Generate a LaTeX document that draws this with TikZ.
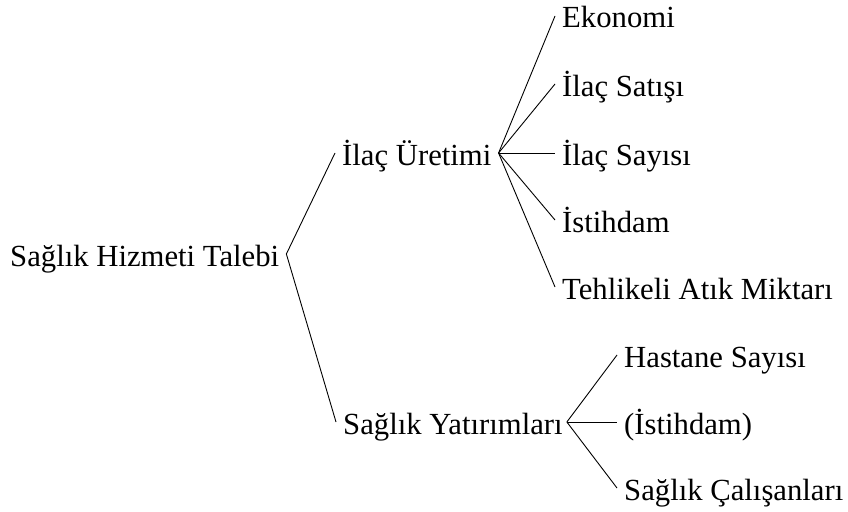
\documentclass[tikz,border=0pt]{standalone}
\usepackage{fontspec}
\setmainfont{Liberation Serif}
\begin{document}
\begin{tikzpicture}[x=1pt,y=-1pt,
  term/.style={anchor=base west,inner xsep=7pt,inner ysep=0pt,
    text height=24pt,text depth=0pt,font=\fontsize{30.7}{36}\selectfont},
  branch/.style={line width=0.9pt,black}]
  \useasboundingbox (0,0) rectangle (848,511);

  % root and first level
  \node[term] (root) at (3,266) {Sağlık Hizmeti Talebi};
  \node[term] (ilac) at (335,165) {İlaç Üretimi};
  \node[term] (yat)  at (336,434) {Sağlık Yatırımları};

  % children of "İlaç Üretimi"
  \node[term] (eko) at (555,28)  {Ekonomi};
  \node[term] (sat) at (555,96)  {İlaç Satışı};
  \node[term] (say) at (555,165) {İlaç Sayısı};
  \node[term] (ist) at (555,232) {İstihdam};
  \node[term] (atk) at (555,299) {Tehlikeli Atık Miktarı};

  % children of "Sağlık Yatırımları"
  \node[term] (has) at (617,367) {Hastane Sayısı};
  \node[term] (ist2) at (617,434) {(İstihdam)};
  \node[term] (cal) at (617,500) {Sağlık Çalışanları};

  % connectors
  \draw[branch] (ilac.west) -- (root.east) -- (yat.west);
  \foreach \c in {eko,sat,say,ist,atk}
    \draw[branch] (ilac.east) -- (\c.west);
  \coordinate (yv) at ([xshift=-3pt]yat.east);
  \foreach \c in {has,ist2,cal}
    \draw[branch] (yv) -- (\c.west);
\end{tikzpicture}
\end{document}
